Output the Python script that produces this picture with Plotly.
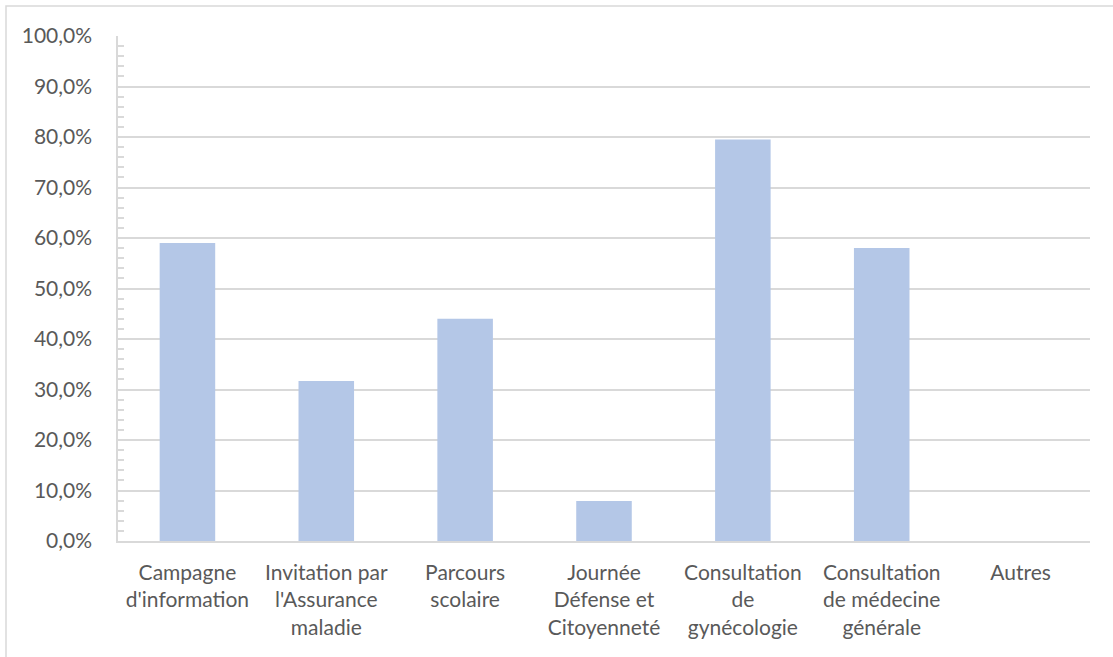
import plotly.graph_objects as go

# Sources d'information (part des répondants)
categories = [
    "Campagne<br>d'information",
    "Invitation par<br>l'Assurance<br>maladie",
    "Parcours<br>scolaire",
    "Journée<br>Défense et<br>Citoyenneté",
    "Consultation<br>de<br>gynécologie",
    "Consultation<br>de médecine<br>générale",
    "Autres",
]
values = [0.590, 0.317, 0.440, 0.079, 0.795, 0.580, 0.0]

W, H = 1113, 657
L, R, T, B = 118, 23, 36, 116
pw, ph = W - L - R, H - T - B

fig = go.Figure(
    go.Bar(
        x=categories,
        y=values,
        marker=dict(color="#B4C7E7", line=dict(width=0)),
        width=0.4,
    )
)

text_color = "#595959"
grid_color = "#D9D9D9"
fsize = 21

fig.update_layout(
    width=W,
    height=H,
    margin=dict(l=L, r=R, t=T, b=B),
    plot_bgcolor="white",
    paper_bgcolor="white",
    separators=", ",
    font=dict(family="Lato", size=fsize, color=text_color),
    showlegend=False,
)

fig.update_xaxes(
    showline=True,
    linecolor=grid_color,
    linewidth=1.5,
    ticks="",
    ticklabelstandoff=12,
    tickfont=dict(size=fsize, color=text_color),
)

fig.update_yaxes(
    range=[0, 1.0],
    dtick=0.1,
    tickformat=".1%",
    showgrid=True,
    gridcolor=grid_color,
    gridwidth=1.5,
    showline=True,
    linecolor=grid_color,
    linewidth=1.5,
    ticks="",
    ticklabelstandoff=20,
    zeroline=False,
    tickfont=dict(size=fsize, color=text_color),
    minor=dict(dtick=0.02, ticks="inside", ticklen=6, tickcolor=grid_color, tickwidth=1.5, showgrid=False),
)

# Cadre du graphique
fig.add_shape(
    type="rect",
    xref="paper",
    yref="paper",
    x0=(6 - L) / pw,
    x1=(W + 10 - L) / pw,
    y0=(H - B - (H + 10)) / ph,
    y1=(H - B - 6) / ph,
    line=dict(color=grid_color, width=1.5),
    fillcolor="rgba(0,0,0,0)",
    layer="below",
)

fig.write_html("out.html")
